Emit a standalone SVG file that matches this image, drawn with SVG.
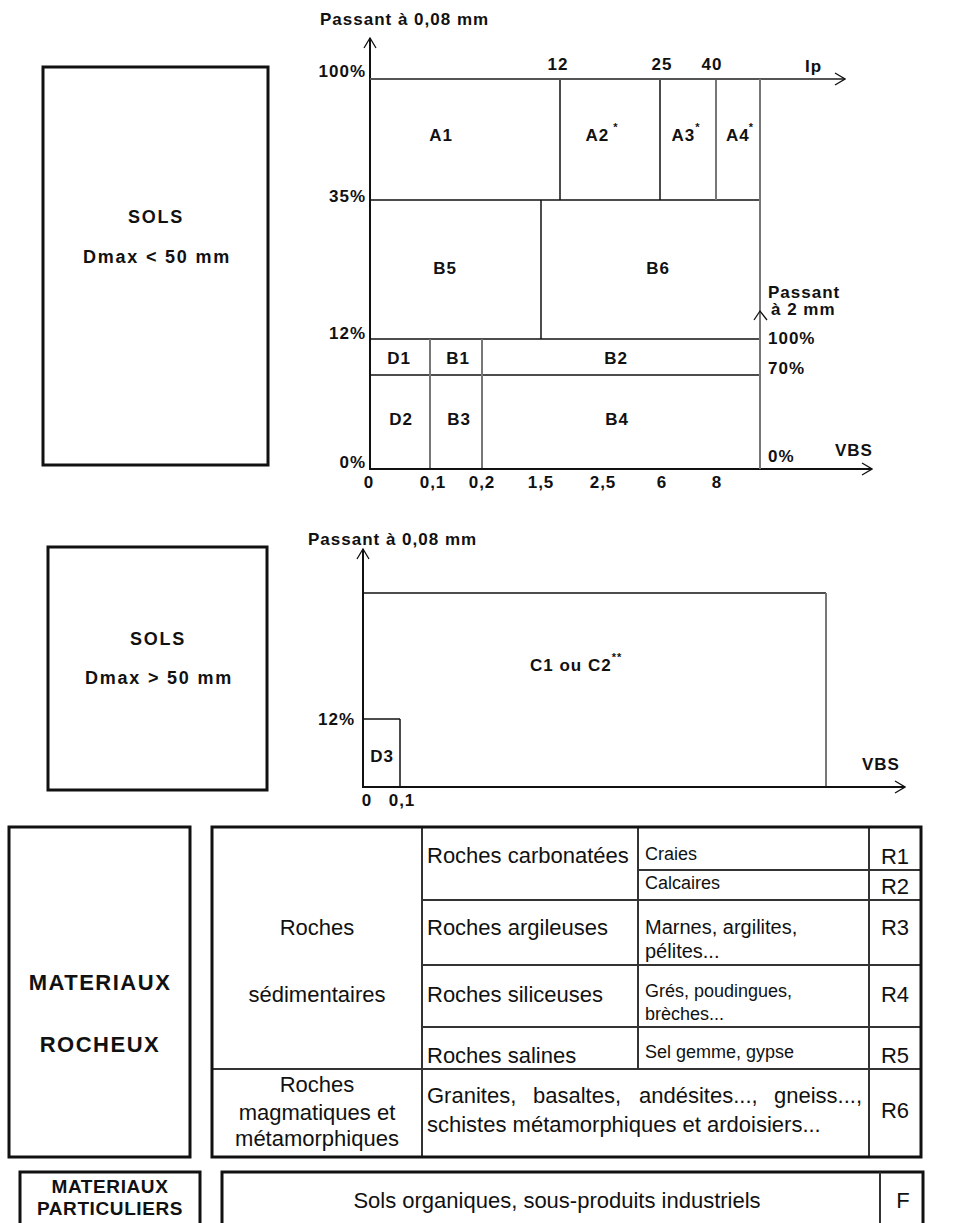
<svg xmlns="http://www.w3.org/2000/svg" width="980" height="1223" viewBox="0 0 980 1223">
<style>
.c{font-family:"Liberation Sans",Arial,sans-serif;font-weight:bold;font-size:17px;letter-spacing:1px;fill:#111}
.s{font-family:"Liberation Sans",Arial,sans-serif;font-weight:bold;font-size:18px;letter-spacing:1.8px;fill:#111}
.t{font-family:"Liberation Sans",Arial,sans-serif;font-size:22px;fill:#111}
.t2{font-family:"Liberation Sans",Arial,sans-serif;font-size:18px;fill:#111}
.tb{font-family:"Liberation Sans",Arial,sans-serif;font-weight:bold;font-size:22px;letter-spacing:1.5px;fill:#111}
.tb2{font-family:"Liberation Sans",Arial,sans-serif;font-weight:bold;font-size:19px;letter-spacing:0.6px;fill:#111}
.m{text-anchor:middle}
.e{text-anchor:end}
.sup{font-size:11px}
.box{fill:none;stroke:#111;stroke-width:3}
.ln{fill:none;stroke:#111;stroke-width:1.5}
.gl{fill:none;stroke:#777;stroke-width:2}
.ax{fill:none;stroke:#111;stroke-width:2}
.ar{fill:none;stroke:#111;stroke-width:1.3}
.tl{fill:none;stroke:#333;stroke-width:2}
</style>
<defs>
<marker id="arr" viewBox="0 0 12 14" refX="11" refY="7" markerWidth="12" markerHeight="14" markerUnits="userSpaceOnUse" orient="auto">
<path d="M1,1 L11,7 L1,13" fill="none" stroke="#111" stroke-width="1.3"/>
</marker>
</defs>
<rect width="980" height="1223" fill="#fff"/>

<g id="box-sols-lt50">
<rect class="box" x="43" y="67" width="225" height="398"/>
<text class="s m" x="156" y="223">SOLS</text>
<text class="s m" x="157" y="263">Dmax &lt; 50 mm</text>
</g>

<g id="chart-top">
<line class="ln" x1="370" y1="200" x2="760" y2="200"/>
<line class="ln" x1="370" y1="339" x2="760" y2="339"/>
<line class="ln" x1="370" y1="375" x2="760" y2="375"/>
<line class="ln" x1="560" y1="79" x2="560" y2="200"/>
<line class="ln" x1="660" y1="79" x2="660" y2="200"/>
<line class="gl" x1="716" y1="79" x2="716" y2="200"/>
<line class="ln" x1="541" y1="200" x2="541" y2="339"/>
<line class="gl" x1="430" y1="339" x2="430" y2="469"/>
<line class="gl" x1="482" y1="339" x2="482" y2="469"/>
<text class="c" x="320" y="25">Passant à 0,08 mm</text>
<text class="c e" x="366" y="77">100%</text>
<text class="c e" x="366" y="202">35%</text>
<text class="c e" x="366" y="339">12%</text>
<text class="c e" x="366" y="468">0%</text>
<text class="c m" x="558" y="70">12</text>
<text class="c m" x="662" y="70">25</text>
<text class="c m" x="712" y="70">40</text>
<text class="c" x="805" y="72">Ip</text>
<text class="c m" x="441" y="141">A1</text>
<text class="c m" x="602" y="141">A2<tspan class="sup" dx="4" dy="-10">*</tspan></text>
<text class="c m" x="686" y="141">A3<tspan class="sup" dx="0" dy="-10">*</tspan></text>
<text class="c m" x="740" y="141">A4<tspan class="sup" dx="-1" dy="-10">*</tspan></text>
<text class="c m" x="445" y="274">B5</text>
<text class="c m" x="658" y="274">B6</text>
<text class="c m" x="399" y="364">D1</text>
<text class="c m" x="458" y="364">B1</text>
<text class="c m" x="616" y="364">B2</text>
<text class="c m" x="401" y="425">D2</text>
<text class="c m" x="459" y="425">B3</text>
<text class="c m" x="617" y="425">B4</text>
<text class="c m" x="369" y="488">0</text>
<text class="c m" x="433" y="488">0,1</text>
<text class="c m" x="482" y="488">0,2</text>
<text class="c m" x="541" y="488">1,5</text>
<text class="c m" x="603" y="488">2,5</text>
<text class="c m" x="662" y="488">6</text>
<text class="c m" x="717" y="488">8</text>
<text class="c" x="768" y="298">Passant</text>
<text class="c" x="771" y="315">à 2 mm</text>
<text class="c" x="768" y="344">100%</text>
<text class="c" x="768" y="374">70%</text>
<text class="c" x="768" y="462">0%</text>
<text class="c" x="835" y="456">VBS</text>
</g>

<g id="box-sols-gt50">
<rect class="box" x="48" y="547" width="219" height="243"/>
<text class="s m" x="158" y="645">SOLS</text>
<text class="s m" x="159" y="684">Dmax &gt; 50 mm</text>
</g>

<g id="chart-bottom">
<line class="ln" x1="363" y1="593" x2="826" y2="593"/>
<line class="gl" x1="826" y1="593" x2="826" y2="787"/>
<line class="ln" x1="363" y1="719" x2="400" y2="719"/>
<line class="ln" x1="400" y1="719" x2="400" y2="787"/>
<text class="c" x="308" y="545">Passant à 0,08 mm</text>
<text class="c e" x="355" y="725">12%</text>
<text class="c m" x="382" y="762">D3</text>
<text class="c" x="530" y="671">C1 ou C2<tspan class="sup" dx="0" dy="-10">**</tspan></text>
<text class="c" x="862" y="770">VBS</text>
<text class="c m" x="367" y="806">0</text>
<text class="c m" x="402" y="806">0,1</text>
</g>

<g id="connectors">
<line class="ax" x1="370" y1="470" x2="370" y2="38" marker-end="url(#arr)"/>
<line x1="370" y1="79" x2="845" y2="79" stroke="#555" stroke-width="2" marker-end="url(#arr)"/>
<line class="ax" x1="369" y1="469" x2="872" y2="469" marker-end="url(#arr)"/>
<line class="gl" x1="760" y1="79" x2="760" y2="469"/>
<polyline class="ar" points="754,320 760,311 767,320"/>
<line class="ax" x1="363" y1="788" x2="363" y2="549" marker-end="url(#arr)"/>
<line class="ax" x1="362" y1="787" x2="905" y2="787" marker-end="url(#arr)"/>
</g>

<g id="box-materiaux-rocheux">
<rect class="box" x="9" y="827" width="181" height="330"/>
<text class="tb m" x="100" y="990">MATERIAUX</text>
<text class="tb m" x="100" y="1052">ROCHEUX</text>
</g>

<g id="table-rocheux">
<line class="tl" x1="422" y1="827" x2="422" y2="1157"/>
<line class="tl" x1="638" y1="827" x2="638" y2="1069"/>
<line class="tl" x1="869" y1="827" x2="869" y2="1157"/>
<line class="tl" x1="638" y1="870" x2="921" y2="870"/>
<line class="tl" x1="422" y1="900" x2="921" y2="900"/>
<line class="tl" x1="422" y1="965" x2="921" y2="965"/>
<line class="tl" x1="422" y1="1027" x2="921" y2="1027"/>
<line class="tl" x1="212" y1="1069" x2="921" y2="1069"/>
<rect class="box" x="212" y="827" width="709" height="330"/>
<text class="t m" x="317" y="935">Roches</text>
<text class="t m" x="317" y="1002">sédimentaires</text>
<text class="t m" x="317" y="1092">Roches</text>
<text class="t m" x="317" y="1120">magmatiques et</text>
<text class="t m" x="317" y="1146">métamorphiques</text>
<text class="t" x="427" y="863">Roches carbonatées</text>
<text class="t" x="427" y="935">Roches argileuses</text>
<text class="t" x="427" y="1002">Roches siliceuses</text>
<text class="t" x="427" y="1063">Roches salines</text>
<text class="t2" x="645" y="860">Craies</text>
<text class="t2" x="645" y="889">Calcaires</text>
<text class="t2" x="645" y="934" style="font-size:20px">Marnes, argilites,</text>
<text class="t2" x="645" y="958" style="font-size:20px">pélites...</text>
<text class="t2" x="645" y="997">Grés, poudingues,</text>
<text class="t2" x="645" y="1020">brèches...</text>
<text class="t2" x="645" y="1058">Sel gemme, gypse</text>
<text class="t" x="427" y="1103">Granites,</text>
<text class="t" x="533" y="1103">basaltes,</text>
<text class="t" x="639" y="1103">andésites...,</text>
<text class="t" x="862" y="1103" text-anchor="end">gneiss...,</text>
<text class="t" x="427" y="1132">schistes métamorphiques et ardoisiers...</text>
<text class="t m" x="895" y="864">R1</text>
<text class="t m" x="895" y="894">R2</text>
<text class="t m" x="895" y="935">R3</text>
<text class="t m" x="895" y="1002">R4</text>
<text class="t m" x="895" y="1063">R5</text>
<text class="t m" x="895" y="1118">R6</text>
</g>

<g id="box-materiaux-particuliers">
<rect class="box" x="20" y="1172" width="180" height="60"/>
<text class="tb2 m" x="110" y="1193">MATERIAUX</text>
<text class="tb2 m" x="110" y="1215">PARTICULIERS</text>
</g>

<g id="row-particuliers">
<rect class="box" x="222" y="1172" width="701" height="60"/>
<line class="tl" x1="880" y1="1172" x2="880" y2="1230"/>
<text class="t m" x="557" y="1208">Sols organiques, sous-produits industriels</text>
<text class="t m" x="903" y="1208">F</text>
</g>
</svg>
